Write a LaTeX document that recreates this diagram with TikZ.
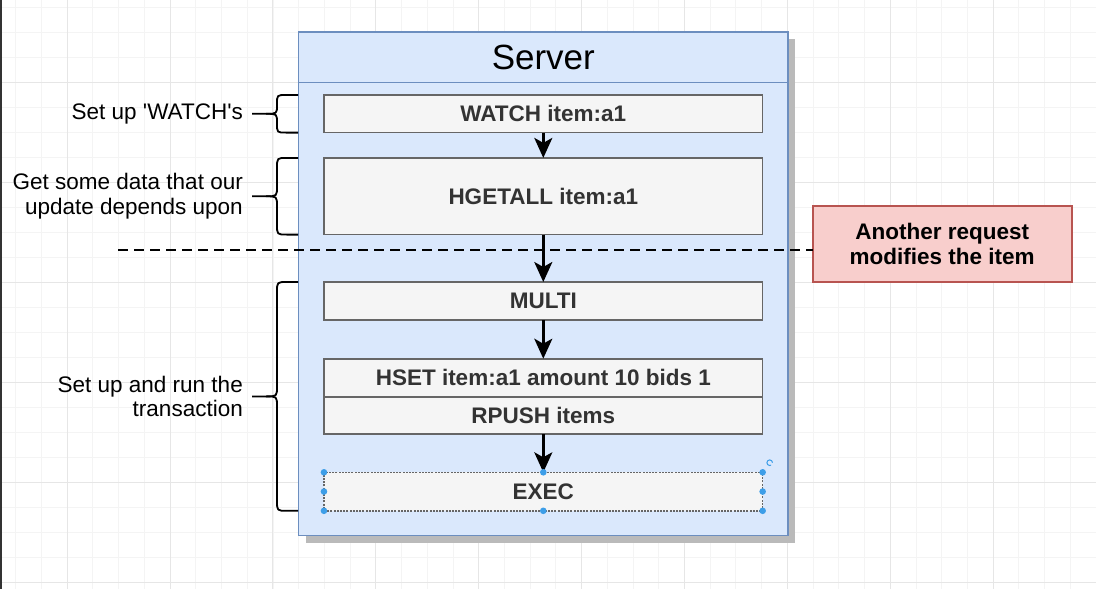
\documentclass[tikz,border=0pt]{standalone}
\usepackage{fontspec}
\setmainfont{Liberation Sans}[Ligatures=TeXOff]
\usetikzlibrary{arrows.meta,calc}

\definecolor{gridminor}{HTML}{F4F4F4}
\definecolor{gridmajor}{HTML}{E6E6E6}
\definecolor{srvfill}{HTML}{DAE8FC}
\definecolor{srvdraw}{HTML}{6C8EBF}
\definecolor{cmdfill}{HTML}{F5F5F5}
\definecolor{cmddraw}{HTML}{666666}
\definecolor{cmdtext}{HTML}{333333}
\definecolor{redfill}{HTML}{F8CECC}
\definecolor{reddraw}{HTML}{B85450}
\definecolor{handle}{HTML}{3D9EE8}

\begin{document}
\begin{tikzpicture}[x=1pt,y=-1pt]
\useasboundingbox (0,0) rectangle (1096,589);
\begin{scope}

\tikzstyle{srv} = [draw=srvdraw,line width=1.6pt,fill=srvfill,inner sep=0pt,outer sep=0pt];
\tikzstyle{cmd} = [minimum width=438.7pt,draw=cmddraw,line width=1.6pt,fill=cmdfill,text=cmdtext,inner sep=0pt,outer sep=0pt,font=\fontsize{22.5}{24.5}\selectfont\bfseries];
\tikzstyle{note} = [anchor=east,align=right,inner sep=0pt,font=\fontsize{22.5}{24.5}\selectfont];
\tikzstyle{flow} = [-{Stealth[length=20pt,width=18pt,inset=5pt]},line width=2.4pt];
\tikzstyle{curly} = [line width=1.8pt,line join=round];

% grid
\fill [white] (0,0) rectangle (1096,589);
\foreach \i in {0,...,42} \draw [gridminor,line width=0.8pt] (15.7+25.72*\i,0) -- (15.7+25.72*\i,589);
\foreach \i in {0,...,24} \draw [gridminor,line width=0.8pt] (0,7+25*\i) -- (1096,7+25*\i);
\foreach \i in {0,...,10} \draw [gridmajor,line width=0.9pt] (67.1+102.9*\i,0) -- (67.1+102.9*\i,589);
\foreach \i in {0,...,5} \draw [gridmajor,line width=0.9pt] (0,82+100*\i) -- (1096,82+100*\i);
\draw [black!80,line width=2pt] (1,0) -- (1,589);

% server
\fill [black!27] (305.6,38.8) rectangle (795,542.5);
\node [srv,anchor=north west,minimum width=489.4pt,minimum height=503.7pt] (server) at (298.6,31.8) {};
\node [srv,anchor=north,minimum width=489.4pt,minimum height=50.7pt,font=\fontsize{35}{40}\selectfont] (head) at (server.north) {Server};

\node [cmd,anchor=north,minimum height=37.6pt] (watch) at ([yshift=-12.5pt]head.south) {WATCH item:a1};
\node [cmd,anchor=north,minimum height=76.7pt] (hgetall) at ([yshift=-25.3pt]watch.south) {HGETALL item:a1};
\node [cmd,anchor=north,minimum height=38.2pt] (multi) at ([yshift=-47.4pt]hgetall.south) {MULTI};
\node [cmd,anchor=north,minimum height=38.2pt] (hset) at ([yshift=-38.5pt]multi.south) {HSET item:a1 amount 10 bids 1};
\node [cmd,anchor=north,minimum height=37.1pt] (rpush) at (hset.south) {RPUSH items};
\node [cmd,anchor=north,minimum height=38.5pt,dash pattern=on 2pt off 1.2pt] (exec) at ([yshift=-38.3pt]rpush.south) {EXEC};

\draw [flow] (watch) -- (hgetall);
\draw [flow] (hgetall) -- (multi);
\draw [flow] (multi) -- (hset);
\draw [flow] (rpush) -- (exec);

% selection handles
\foreach \a in {north west,north,north east,west,east,south west,south,south east}
  \fill [handle] (exec.\a) circle (3.3pt);
\draw [handle,line width=1pt] (772.5,462.7) arc (0:300:2.8pt);

% other request
\node [draw=reddraw,line width=1.6pt,fill=redfill,anchor=north west,outer sep=0pt,minimum width=259pt,minimum height=75.7pt,align=center,font=\fontsize{22.5}{24.5}\selectfont\bfseries] (other) at (812.7,206) {Another request\\modifies the item};
\coordinate (cut) at (118,250);
\draw [line width=1.8pt,dash pattern=on 10pt off 6pt] (cut) -- (cut -| other.west);

% braces
\draw [curly] (298,95) -- (286,95) .. controls (277,95) .. (277,104) -- (277,105) .. controls (277,113.8) .. (266,113.8) -- (252,113.8);
\draw [curly] (298,132.6) -- (286,132.6) .. controls (277,132.6) .. (277,123.6) -- (277,122.6) .. controls (277,113.8) .. (266,113.8);
\draw [curly] (298,157.9) -- (287,157.9) .. controls (277,157.9) .. (277,167.9) -- (277,186.3) .. controls (277,196.3) .. (266,196.3) -- (252,196.3);
\draw [curly] (298,234.6) -- (287,234.6) .. controls (277,234.6) .. (277,224.6) -- (277,206.3) .. controls (277,196.3) .. (266,196.3);
\draw [curly] (298,282) -- (287,282) .. controls (277,282) .. (277,292) -- (277,386.4) .. controls (277,396.4) .. (266,396.4) -- (252,396.4);
\draw [curly] (298,510.8) -- (287,510.8) .. controls (277,510.8) .. (277,500.8) -- (277,406.4) .. controls (277,396.4) .. (266,396.4);

\node [note] (n1) at (243,113.8) {Set up 'WATCH's};
\node [note] (n2) at (243,196.3) {Get some data that our\\update depends upon};
\node [note] (n3) at (243,396.4) {Set up and run the\\transaction};

\end{scope}
\end{tikzpicture}
\end{document}
